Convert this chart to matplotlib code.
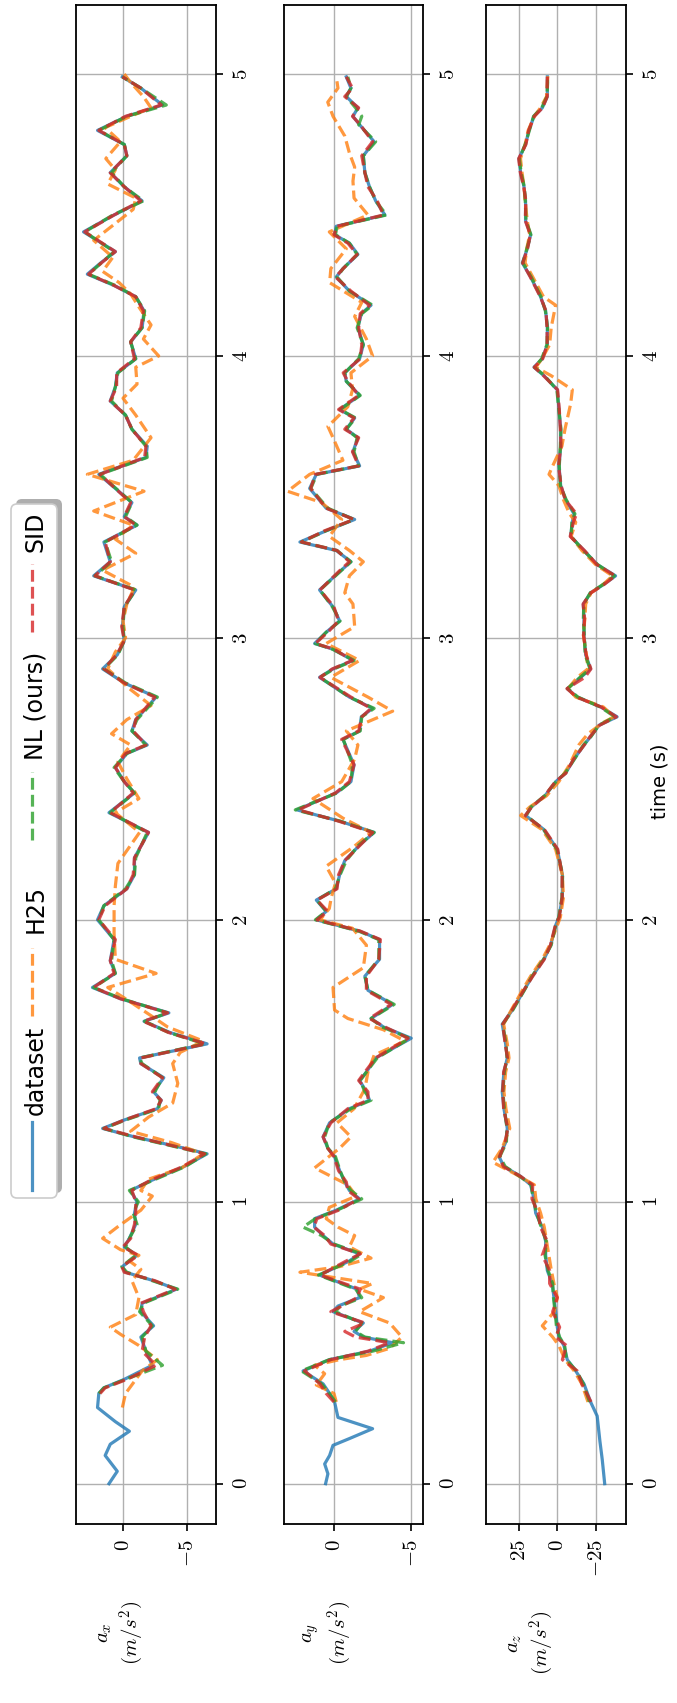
import numpy as np
import matplotlib
matplotlib.use("Agg")
import matplotlib.pyplot as plt
from matplotlib.patches import FancyBboxPatch

plt.rcParams['mathtext.fontset'] = 'cm'
plt.rcParams['font.family'] = ['DejaVu Sans']

nan = np.nan

# ---------------- a_x ----------------
t_ax = [0.0, 0.044, 0.10, 0.14, 0.186, 0.22, 0.27, 0.32, 0.34, 0.37,
        0.42, 0.47, 0.52, 0.56, 0.61, 0.64, 0.69, 0.72, 0.75, 0.77,
        0.81, 0.84, 0.87, 0.92, 0.96, 1.00, 1.04, 1.075, 1.125, 1.17,
        1.19, 1.23, 1.26, 1.29, 1.33, 1.36, 1.39, 1.44, 1.49, 1.51,
        1.56, 1.60, 1.64, 1.67, 1.72, 1.76, 1.81, 1.855, 1.93, 2.00,
        2.05, 2.11, 2.16, 2.22, 2.31, 2.38, 2.45, 2.49, 2.54, 2.59,
        2.62, 2.67, 2.71, 2.79, 2.84, 2.89, 2.94, 2.99, 3.04, 3.11,
        3.17, 3.22, 3.27, 3.34, 3.40, 3.43, 3.48, 3.58, 3.64, 3.68,
        3.74, 3.79, 3.84, 3.89, 3.94, 3.99, 4.05, 4.10, 4.16, 4.21,
        4.25, 4.29, 4.33, 4.37, 4.44, 4.50, 4.55, 4.60, 4.65, 4.71,
        4.75, 4.80, 4.85, 4.89, 4.95, 4.99]
ax_dataset = [1.1, 0.45, 1.4, 1.0, -0.5, 0.6, 2.0, 1.9, 1.5, -0.1,
              -2.3, -1.8, -1.4, -2.4, -1.4, -1.5, -4.2, -2.4, -0.2, 0.05,
              -1.1, -0.1, -0.5, -1.0, -0.9, -1.1, -0.6, -2.2, -4.8, -6.6,
              -4.8, -0.9, 1.6, -0.1, -2.7, -3.0, -2.4, -3.2, -1.4, -1.3,
              -6.6, -3.7, -1.65, -3.6, 0.2, 2.4, 0.6, 1.0, 0.7, 2.0,
              1.5, -0.3, -0.9, -0.9, -2.0, 1.1, -0.9, -0.1, 0.6, -0.3,
              -1.9, -0.7, -1.0, -2.6, -0.1, 1.6, 0.45, -0.1, 0.05, -0.1,
              -1.0, 2.3, 1.0, 1.5, -1.1, -0.1, -0.7, 1.9, -1.8, -1.9,
              -0.7, -0.2, 1.0, 0.6, 0.45, -1.0, -0.6, -1.5, -1.65, -1.0,
              0.7, 2.8, 1.75, 0.6, 3.1, 0.7, -1.5, -0.1, 1.0, -0.3,
              -0.1, 2.0, -0.3, -3.1, -1.4, 0.05]
ax_nl = [nan, nan, nan, nan, nan, nan, nan, 1.9, 1.5, -0.2,
         -3.1, -1.8, -1.5, -2.3, -1.3, -1.6, -4.3, -2.3, -0.3, 0.1,
         -1.0, -0.2, -0.5, -1.1, -0.8, -1.2, -0.5, -2.3, -4.9, -6.5,
         -4.6, -0.8, 1.5, -0.2, -2.8, -2.9, -2.5, -3.1, -1.5, -1.3,
         -6.4, -3.6, -1.7, -3.5, 0.1, 2.3, 0.6, 0.9, 0.7, 1.9,
         1.5, -0.2, -0.9, -1.0, -1.9, 1.0, -0.9, -0.1, 0.7, -0.3,
         -1.8, -0.7, -1.1, -2.7, -0.2, 1.5, 0.4, -0.1, 0.0, -0.1,
         -1.0, 2.2, 0.9, 1.4, -1.1, -0.2, -0.7, 1.8, -1.9, -1.8,
         -0.7, -0.2, 0.9, 0.6, 0.4, -1.0, -0.6, -1.5, -1.7, -1.0,
         0.6, 2.7, 1.7, 0.7, 3.0, 0.8, -1.6, -0.1, 0.9, -0.3,
         -0.1, 1.9, -0.3, -3.4, -1.4, 0.05]
ax_sid = [nan, nan, nan, nan, nan, nan, nan, 1.8, 1.4, -0.3,
          -2.6, -1.5, -1.7, -2.2, -1.6, -1.4, -4.1, -2.5, -0.1, 0.1,
          -1.2, 0.0, -0.6, -0.9, -1.0, -1.0, -0.7, -2.1, -4.7, -6.4,
          -4.7, -1.0, 1.5, -0.1, -2.6, -3.0, -2.3, -3.1, -1.4, -1.4,
          -6.5, -3.6, -1.6, -3.5, 0.2, 2.3, 0.7, 1.0, 0.6, 1.9,
          1.4, -0.3, -0.8, -0.9, -2.0, 1.0, -0.8, -0.1, 0.6, -0.2,
          -1.8, -0.8, -1.0, -2.5, -0.1, 1.5, 0.5, -0.1, 0.1, -0.1,
          -0.9, 2.2, 1.0, 1.4, -1.0, -0.1, -0.6, 1.8, -1.7, -1.8,
          -0.7, -0.2, 1.0, 0.5, 0.5, -0.9, -0.6, -1.4, -1.6, -1.0,
          0.7, 2.7, 1.7, 0.6, 3.0, 0.7, -1.4, -0.1, 1.0, -0.3,
          -0.1, 1.9, -0.2, -3.0, -1.4, 0.05]
t_ax_h25 = [0.27, 0.32, 0.40, 0.44, 0.49, 0.53, 0.555, 0.60, 0.66, 0.72,
            0.76, 0.79, 0.81, 0.83, 0.87, 0.91, 0.97, 1.02, 1.04, 1.08,
            1.12, 1.17, 1.21, 1.25, 1.30, 1.35, 1.42, 1.49, 1.53, 1.57,
            1.62, 1.66, 1.72, 1.76, 1.81, 1.86, 1.95, 2.05, 2.12, 2.20,
            2.31, 2.38, 2.43, 2.50, 2.56, 2.62, 2.66, 2.71, 2.76, 2.82,
            2.89, 2.95, 3.00, 3.06, 3.12, 3.18, 3.24, 3.30, 3.35, 3.40,
            3.45, 3.52, 3.58, 3.63, 3.71, 3.79, 3.85, 3.90, 3.96, 4.00,
            4.06, 4.11, 4.17, 4.22, 4.26, 4.30, 4.35, 4.41, 4.47, 4.52,
            4.56, 4.61, 4.66, 4.70, 4.76, 4.81, 4.85, 4.88, 4.92, 4.97,
            5.00]
ax_h25 = [0.05, -0.2, -1.5, -2.7, -1.25, 0.2, 1.0, -1.0, -1.25, -0.7,
          -1.4, -0.5, -1.25, 0.2, 1.6, 0.45, -1.4, -2.3, -1.4, -2.0,
          -4.6, -6.3, -3.8, -0.6, -2.0, -3.9, -4.3, -3.9, -4.5, -6.3,
          -3.5, -2.2, -0.2, 1.2, -2.6, 0.6, 0.7, 0.7, 0.6, 0.4,
          -1.3, 0.6, -1.25, -0.3, 0.4, -0.6, 0.9, -0.3, -2.2, -0.5,
          1.2, 0.6, -0.2, 0.0, -0.3, -0.9, 1.6, -1.0, 0.6, -0.8,
          2.3, -1.65, 2.8, -0.8, -2.2, -1.0, 0.0, -1.1, -1.0, -2.8,
          -1.6, -2.2, -1.3, -0.6, 0.3, 1.6, 0.8, 2.3, 0.6, -0.8,
          -1.0, 1.2, 0.6, 1.35, 0.2, 1.4, -0.6, -2.2, -1.6, -0.6,
          -0.1]

# ---------------- a_y ----------------
t_ay = [0.0, 0.035, 0.07, 0.10, 0.136, 0.16, 0.195, 0.235, 0.29, 0.32,
        0.354, 0.40, 0.44, 0.47, 0.50, 0.52, 0.54, 0.57, 0.61, 0.63,
        0.66, 0.69, 0.74, 0.79, 0.815, 0.85, 0.88, 0.91, 0.94, 0.97,
        1.01, 1.04, 1.07, 1.11, 1.16, 1.19, 1.23, 1.28, 1.33, 1.36,
        1.39, 1.43, 1.46, 1.51, 1.58, 1.62, 1.65, 1.70, 1.75, 1.80,
        1.86, 1.93, 1.96, 2.00, 2.03, 2.07, 2.11, 2.16, 2.21, 2.265,
        2.31, 2.35, 2.39, 2.45, 2.49, 2.55, 2.64, 2.67, 2.72, 2.75,
        2.79, 2.86, 2.89, 2.92, 2.96, 2.98, 3.02, 3.06, 3.11, 3.17,
        3.24, 3.27, 3.31, 3.34, 3.38, 3.42, 3.46, 3.53, 3.58, 3.61,
        3.66, 3.71, 3.74, 3.78, 3.81, 3.86, 3.91, 3.94, 3.99, 4.04,
        4.10, 4.15, 4.18, 4.23, 4.28, 4.31, 4.36, 4.40, 4.43, 4.46,
        4.50, 4.55, 4.60, 4.65, 4.71, 4.76, 4.82, 4.85, 4.88, 4.92,
        4.95, 4.99]
ay_dataset = [0.54, 0.39, 0.6, 0.28, 0.06, -1.0, -2.5, -0.26, -0.04, 0.28,
              0.7, 2.0, 0.28, -2.3, -3.8, -1.9, -1.3, -1.9, 0.06, -0.26,
              -1.66, -1.5, 0.93, -1.0, -1.66, 0.06, 0.7, 1.25, 1.25, -0.15,
              -1.66, -1.0, -0.7, -0.37, -0.04, 0.39, 0.7, 0.28, -1.0, -2.3,
              -2.1, -1.66, -2.1, -2.7, -5.0, -3.2, -2.4, -3.8, -2.2, -2.0,
              -2.95, -2.95, -1.66, 1.14, 0.5, 1.14, -0.15, -0.37, -0.7, -1.66,
              -2.6, -0.37, 2.4, -0.15, -1.1, -1.3, -0.58, -1.66, -1.77, -2.5,
              -1.0, 0.93, 0.06, -1.23, 0.06, 1.25, 0.5, -0.37, 0.06, 0.93,
              -0.47, -1.1, -0.15, 2.2, 0.5, -1.34, 0.5, 1.57, 1.14, -1.66,
              -1.23, -1.55, -0.8, -1.34, -0.37, -1.66, -0.8, -0.7, -1.66, -1.9,
              -1.55, -1.77, -2.4, -1.0, -0.15, -0.58, -1.55, -1.0, -0.04, -0.15,
              -3.3, -2.7, -2.3, -2.0, -1.9, -2.6, -1.66, -1.23, -1.55, -0.8,
              -1.1, -0.8]
ay_nl = [nan, nan, nan, nan, nan, nan, nan, nan, -0.1, 0.3,
         0.8, 2.1, 0.3, -2.5, -4.5, -2.0, -1.4, -1.8, -0.1, -0.4,
         -1.8, -1.4, 1.0, -1.1, -1.8, 0.0, 0.8, 2.0, 1.2, -0.2,
         -1.8, -1.1, -0.7, -0.4, -0.1, 0.4, 0.6, 0.3, -1.1, -2.4,
         -2.0, -1.7, -2.1, -2.8, -4.9, -3.1, -2.4, -3.9, -2.2, -2.0,
         -2.9, -2.9, -1.6, 1.2, 0.5, 1.1, -0.1, -0.4, -0.8, -1.6,
         -2.6, -0.4, 2.5, -0.2, -1.1, -1.2, -0.6, -1.7, -1.8, -2.6,
         -1.0, 0.9, 0.0, -1.3, 0.1, 1.2, 0.5, -0.4, 0.1, 0.9,
         -0.5, -1.1, -0.2, 2.1, 0.5, -1.3, 0.4, 1.5, 1.1, -1.6,
         -1.3, -1.5, -0.8, -1.4, -0.4, -1.7, -0.8, -0.7, -1.6, -1.9,
         -1.5, -1.8, -2.5, -1.0, -0.2, -0.6, -1.5, -1.0, -0.1, -0.2,
         -3.4, -2.7, -2.3, -2.0, -1.9, -2.7, -1.6, -1.8, -1.4, -0.8,
         -1.1, -0.9]
ay_sid = [nan, nan, nan, nan, nan, nan, nan, nan, 0.0, 0.5,
          0.9, 1.9, 0.2, -2.2, -3.6, -1.4, -0.7, -2.0, 0.2, -0.5,
          -1.5, -1.7, 0.9, -0.8, -1.7, 0.2, 0.6, 1.3, 1.1, -0.3,
          -1.6, -0.9, -0.8, -0.3, 0.0, 0.4, 0.7, 0.2, -0.9, -2.2,
          -2.2, -1.6, -2.0, -2.7, -4.8, -3.3, -2.3, -3.7, -2.1, -2.1,
          -2.9, -3.0, -1.7, 1.1, 0.4, 1.1, -0.2, -0.3, -0.7, -1.7,
          -2.5, -0.3, 2.3, -0.1, -1.0, -1.3, -0.5, -1.6, -1.8, -2.4,
          -1.1, 0.9, 0.1, -1.2, 0.0, 1.2, 0.4, -0.3, 0.0, 0.9,
          -0.4, -1.0, -0.2, 2.1, 0.6, -1.3, 0.5, 1.5, 1.2, -1.6,
          -1.2, -1.6, -0.7, -1.3, -0.3, -1.6, -0.9, -0.6, -1.7, -1.8,
          -1.6, -1.7, -2.3, -1.1, -0.1, -0.6, -1.5, -0.9, 0.0, -0.2,
          -3.2, -2.8, -2.2, -2.0, -1.8, -2.5, -1.7, -1.2, -1.6, -0.7,
          -1.2, -0.8]
t_ay_h25 = [0.29, 0.32, 0.35, 0.39, 0.42, 0.44, 0.455, 0.48, 0.52, 0.57,
            0.61, 0.66, 0.69, 0.71, 0.75, 0.77, 0.80, 0.84, 0.88, 0.91,
            0.94, 0.98, 1.02, 1.06, 1.12, 1.19, 1.23, 1.28, 1.33, 1.40,
            1.46, 1.52, 1.57, 1.61, 1.65, 1.68, 1.76, 1.83, 1.91, 1.97,
            2.00, 2.04, 2.08, 2.13, 2.19, 2.26, 2.31, 2.36, 2.43, 2.49,
            2.57, 2.62, 2.67, 2.74, 2.79, 2.86, 2.92, 2.98, 3.04, 3.12,
            3.16, 3.22, 3.27, 3.31, 3.36, 3.42, 3.48, 3.52, 3.58, 3.63,
            3.71, 3.75, 3.82, 3.88, 3.94, 4.00, 4.06, 4.14, 4.19, 4.26,
            4.31, 4.38, 4.44, 4.50, 4.56, 4.62, 4.67, 4.72, 4.78, 4.85,
            4.90, 4.95, 4.99]
ay_h25 = [-0.15, 0.0, 1.14, 0.6, 1.25, -0.37, -2.1, -3.6, -4.4, -3.6,
          -1.66, -3.2, -1.66, -2.5, 2.2, -0.37, -2.4, -1.0, -1.34, -0.26,
          0.5, 0.3, -1.44, -0.9, 1.25, -0.37, -1.1, -0.2, -1.3, -2.0,
          -2.2, -2.6, -4.6, -3.2, -0.9, -0.04, 0.06, -1.9, -2.1, -1.2,
          0.9, 0.3, 0.17, -0.1, 0.5, -1.3, -2.4, -0.6, 1.36, -0.5,
          -1.34, -1.55, -0.8, -3.8, -2.2, 0.2, -1.66, 0.5, -1.34, -1.23,
          -0.7, -1.0, -1.9, -1.0, 0.3, -0.5, 0.8, 3.0, 1.57, -0.58,
          0.06, 0.39, -0.9, -1.2, -1.1, -2.5, -2.1, -1.34, -1.8, 0.28,
          0.2, -0.8, 0.3, -2.2, -1.3, -1.23, -1.34, -1.0, -0.7, 0.06,
          0.4, -0.26, -0.15]

# ---------------- a_z ----------------
t_az = [0.0, 0.086, 0.15, 0.24, 0.29, 0.354, 0.40, 0.44, 0.49, 0.52,
        0.555, 0.61, 0.66, 0.71, 0.756, 0.81, 0.86, 0.91, 0.96, 1.01,
        1.06, 1.09, 1.125, 1.16, 1.21, 1.26, 1.33, 1.39, 1.46, 1.51,
        1.56, 1.63, 1.68, 1.75, 1.80, 1.86, 1.91, 1.98, 2.01, 2.08,
        2.16, 2.25, 2.32, 2.37, 2.40, 2.44, 2.49, 2.52, 2.57, 2.62,
        2.65, 2.69, 2.72, 2.755, 2.79, 2.82, 2.86, 2.89, 2.94, 3.01,
        3.07, 3.12, 3.16, 3.19, 3.22, 3.26, 3.31, 3.36, 3.41, 3.44,
        3.49, 3.54, 3.61, 3.68, 3.74, 3.81, 3.88, 3.93, 3.96, 3.99,
        4.04, 4.10, 4.16, 4.21, 4.28, 4.33, 4.38, 4.43, 4.48, 4.55,
        4.60, 4.65, 4.70, 4.75, 4.80, 4.85, 4.88, 4.92, 4.97, 4.99]
az_dataset = [-30.9, -29.3, -27.8, -26.0, -21.7, -17.4, -12.0, -6.5, -4.3, -1.1,
              0.0, 1.1, 2.2, 3.3, 6.5, 7.6, 7.6, 9.8, 14.1, 15.2,
              17.4, 23.9, 34.8, 38.0, 33.7, 32.6, 34.8, 35.9, 34.8, 32.6,
              33.7, 35.9, 29.3, 21.7, 16.3, 8.7, 4.3, 1.1, -1.1, -3.3,
              -3.3, 0.0, 8.7, 20.7, 17.0, 8.0, 1.0, -5.4, -10.9, -17.4,
              -21.7, -27.2, -39.0, -28.3, -13.0, -6.5, -15.2, -21.7, -18.5, -17.4,
              -17.4, -17.0, -21.7, -30.4, -38.0, -26.0, -17.4, -8.7, -9.8, -10.9,
              -5.4, -2.2, -1.1, -2.2, -2.2, -1.1, 0.0, 8.7, 15.2, 9.8,
              6.5, 6.5, 7.6, 10.9, 17.4, 22.8, 19.6, 17.4, 20.7, 20.7,
              21.7, 23.9, 25.0, 20.7, 18.5, 15.2, 9.8, 6.5, 6.5, 6.5]
az_nl = [nan, nan, nan, nan, -21.0, -17.0, -12.5, -6.0, -4.8, -1.5,
         0.5, 1.5, 2.5, 3.0, 6.0, 8.0, 7.2, 10.5, 13.5, 15.8,
         17.0, 24.5, 34.0, 37.5, 33.2, 32.8, 34.5, 35.5, 34.5, 32.8,
         33.5, 35.5, 29.0, 21.5, 16.5, 9.0, 4.0, 1.0, -1.0, -3.0,
         -3.5, 0.3, 9.0, 20.2, 17.2, 8.3, 0.8, -5.0, -11.2, -17.0,
         -22.0, -27.0, -37.5, -28.0, -13.5, -6.8, -14.8, -21.3, -18.2, -17.6,
         -17.0, -17.3, -21.5, -30.0, -37.2, -26.3, -17.0, -9.0, -9.5, -11.5,
         -5.8, -2.0, -1.3, -2.0, -2.4, -1.0, 0.3, 8.3, 14.8, 10.2,
         6.8, 6.3, 7.8, 10.6, 17.0, 22.4, 19.9, 17.2, 20.4, 20.9,
         21.5, 23.6, 24.7, 21.0, 18.2, 15.5, 10.2, 6.8, 6.3, 6.5]
az_sid = [nan, nan, nan, nan, -22.0, -16.0, -13.0, -3.3, -6.0, 1.0,
          -1.5, 3.0, 0.0, 5.0, 5.0, 9.8, 6.5, 11.0, 12.5, 16.5,
          16.0, 24.0, 35.2, 37.6, 34.0, 32.3, 35.0, 35.6, 35.0, 32.5,
          34.0, 35.6, 29.6, 21.9, 16.0, 8.5, 4.5, 1.3, -1.3, -3.2,
          -3.1, -0.3, 8.4, 20.9, 16.7, 8.2, 1.3, -5.6, -10.6, -17.6,
          -21.4, -27.5, -38.5, -28.6, -12.6, -6.3, -18.0, -21.9, -18.8, -17.1,
          -17.8, -16.8, -22.0, -30.6, -37.8, -25.8, -17.7, -8.4, -10.5, -12.5,
          -5.1, -2.5, -0.8, -2.4, -2.0, -1.3, -0.2, 9.0, 15.0, 9.5,
          6.6, 6.7, 7.4, 11.1, 17.6, 22.6, 19.4, 17.6, 20.9, 20.5,
          21.9, 24.1, 25.2, 20.5, 18.7, 15.0, 9.6, 6.6, 6.6, 6.5]
t_az_h25 = [0.29, 0.354, 0.40, 0.44, 0.49, 0.52, 0.56, 0.61, 0.66, 0.71,
            0.76, 0.81, 0.86, 0.91, 0.96, 1.01, 1.06, 1.10, 1.14, 1.19,
            1.26, 1.33, 1.39, 1.46, 1.51, 1.56, 1.63, 1.68, 1.75, 1.80,
            1.86, 1.91, 1.98, 2.01, 2.08, 2.16, 2.25, 2.32, 2.37, 2.40,
            2.44, 2.49, 2.55, 2.62, 2.66, 2.70, 2.72, 2.755, 2.79, 2.82,
            2.86, 2.89, 2.94, 3.01, 3.07, 3.12, 3.16, 3.19, 3.22, 3.26,
            3.31, 3.36, 3.41, 3.44, 3.49, 3.54, 3.58, 3.61, 3.68, 3.74,
            3.83, 3.88, 3.93, 3.96, 3.99, 4.04, 4.10, 4.18, 4.21, 4.28,
            4.33, 4.38, 4.43, 4.48, 4.55, 4.60, 4.65, 4.70, 4.75, 4.80,
            4.85, 4.88, 4.92, 4.97, 5.00]
az_h25 = [-20, -16, -11, -5, -1, 3, 9.8, 2, 0, 2.2,
          4, 5.5, 7, 8.5, 10.9, 14, 15, 28, 42, 36,
          31, 33.5, 34.8, 33.7, 31.5, 32.6, 35, 30, 22.8, 17.4,
          9.8, 5, 0, -2, -4, -3.3, 1.1, 10, 23.9, 18,
          7, -1, -8, -14, -20, -30, -37, -30, -12, -7,
          -13, -20, -19, -17, -18, -18.5, -22, -30, -36, -25,
          -16, -9, -12, -8, -4, -1, 5.4, 3, -3, -5,
          -8.7, -9.8, 4, 14, 10, 5, 4, 1.1, 9, 16,
          21, 20, 18, 19.6, 21, 21.7, 23, 24, 21, 19,
          15, 11, 7, 6.5, 6]

series_names = ['dataset', 'H25', 'NL (ours)', 'SID']
series_colors = ['tab:blue', 'tab:orange', 'tab:green', 'tab:red']
series_styles = ['-', '--', '--', '--']

time_ticks = [0, 1, 2, 3, 4, 5]
ax_ticks = [0, -5]
ay_ticks = [0, -5]
az_ticks = [25, 0, -25]

W, H = 677, 1703
fig = plt.figure(figsize=(W / 100, H / 100), dpi=100)

# figure is laid out rotated: time runs bottom -> top, values right -> left
ytop, ybot = 5.5, 1524.0
panels = [
    ((76, 216), (3.69, -7.30), ax_ticks, r'$a_x$' + '\n' + r'$(m/s^2)$',
     [(t_ax, ax_dataset), (t_ax_h25, ax_h25), (t_ax, ax_nl), (t_ax, ax_sid)]),
    ((284, 423), (3.23, -5.76), ay_ticks, r'$a_y$' + '\n' + r'$(m/s^2)$',
     [(t_ay, ay_dataset), (t_ay_h25, ay_h25), (t_ay, ay_nl), (t_ay, ay_sid)]),
    ((486, 626), (46.5, -44.8), az_ticks, r'$a_z$' + '\n' + r'$(m/s^2)$',
     [(t_az, az_dataset), (t_az_h25, az_h25), (t_az, az_nl), (t_az, az_sid)]),
]

axes = []
for (x0, x1), xlim, vticks, label, series in panels:
    ax = fig.add_axes([x0 / W, 1 - ybot / H, (x1 - x0) / W, (ybot - ytop) / H])
    for (tt, vv), c, ls in zip(series, series_colors, series_styles):
        ax.plot(vv, tt, color=c, ls=ls, lw=2.3, alpha=0.8,
                solid_joinstyle='round', dash_joinstyle='round')
    ax.set_xlim(*xlim)
    ax.set_ylim(-0.143, 5.243)
    ax.set_xticks(vticks, labels=[f'${v}$' for v in vticks], rotation=90, fontsize=15)
    ax.set_yticks(time_ticks, labels=[f'${v}$' for v in time_ticks], rotation=90,
                  va='center', fontsize=15)
    ax.yaxis.tick_right()
    ax.tick_params(length=5, width=1.2, pad=6, colors='black')
    ax.grid(True, color='#b0b0b0', lw=1.0)
    ax.set_axisbelow(True)
    for sp in ax.spines.values():
        sp.set_linewidth(1.3)
    ax.set_xlabel(label, rotation=90, ha='right', va='top', multialignment='center',
                  fontsize=15, labelpad=24)
    axes.append(ax)

axes[2].yaxis.set_label_position('right')
axes[2].set_ylabel('time (s)', fontsize=14)
axes[2].yaxis.set_label_coords(1.175, 0.489)

# legend drawn by hand so it can stand on its side
lax = fig.add_axes([0, 0, 1, 1])
lax.set_xlim(0, W)
lax.set_ylim(H, 0)
lax.axis('off')
lax.add_patch(FancyBboxPatch((16, 499), 46, 694, boxstyle='round,pad=0,rounding_size=6',
                             facecolor='#9a9a9a', edgecolor='none', alpha=0.8))
lax.add_patch(FancyBboxPatch((11, 504), 46, 694, boxstyle='round,pad=0,rounding_size=6',
                             facecolor='white', edgecolor='#cccccc', lw=1.2))
handle_spans = [(1122, 1190), (948, 1016), (772, 840), (564, 632)]
text_centers = [1070, 909, 706, 532]
for name, c, ls, (h0, h1), tc in zip(series_names, series_colors, series_styles,
                                     handle_spans, text_centers):
    lax.plot([32, 32], [h1, h0], color=c, ls=ls, lw=2.3, alpha=0.8)
    lax.text(36, tc, name, rotation=90, ha='center', va='center', fontsize=17)

fig.savefig('out.png', dpi=100)
